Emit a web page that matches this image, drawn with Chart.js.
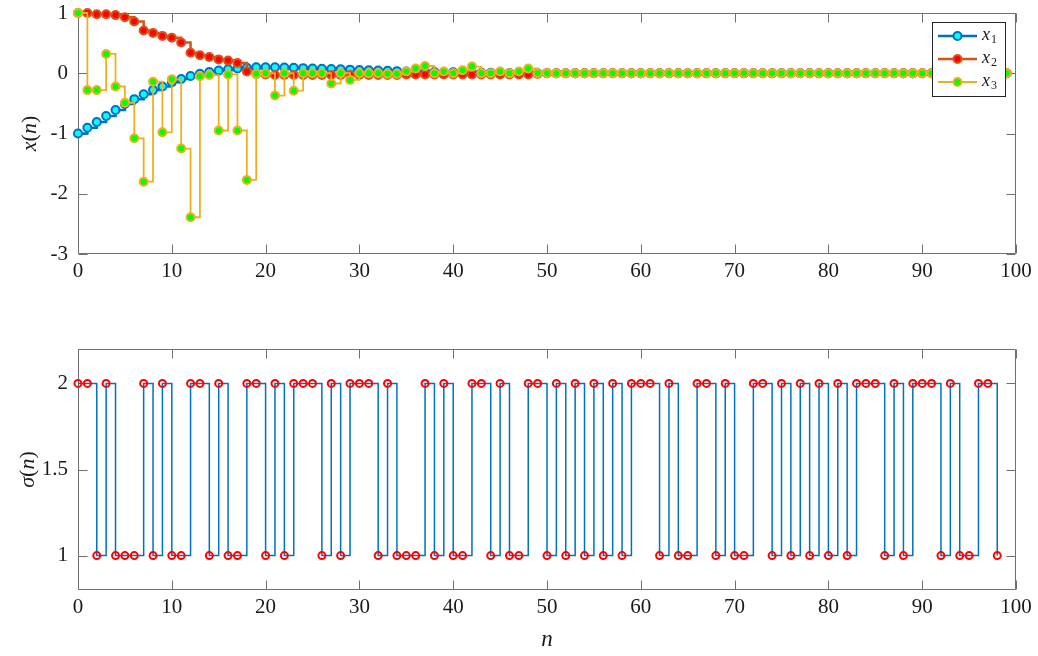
<!DOCTYPE html>
<html><head><meta charset="utf-8">
<script src="https://cdn.jsdelivr.net/npm/chart.js@4.4.0/dist/chart.umd.min.js"></script>
<style>
html,body{margin:0;padding:0;background:#fff;width:1038px;height:656px;overflow:hidden}
#c1{position:absolute;left:0;top:0}
#c2{position:absolute;left:0;top:300px}
</style></head><body>
<canvas id="c1" width="1038" height="300"></canvas>
<canvas id="c2" width="1038" height="356"></canvas>
<script>
// ---------- data ----------
const x1 = [-1.00,-0.906,-0.81,-0.71,-0.61,-0.51,-0.43,-0.35,-0.28,-0.22,
  -0.15,-0.095,-0.045,-0.01,0.02,0.044,0.065,0.078,0.09,0.10,
  0.10,0.10,0.095,0.09,0.085,0.08,0.075,0.07,0.065,0.06,
  0.055,0.05,0.045,0.04,0.035,0.03,0.027,0.024,0.02,0.018,
  0.015,0.013,0.011,0.009,0.007,0.006,0.005,0.004,0.003,0.002,
  0.002,0.001,0.001,0.001,0,0,0,0,0,0,
  0,0,0,0,0,0,0,0,0,0,
  0,0,0,0,0,0,0,0,0,0,
  0,0,0,0,0,0,0,0,0,0,
  0,0,0,0,0,0,0,0,0,0];
const x2 = [1.00,1.00,0.98,0.98,0.965,0.93,0.86,0.71,0.67,0.62,
  0.59,0.51,0.34,0.30,0.27,0.23,0.21,0.17,0.03,-0.01,
  -0.02,-0.03,-0.03,-0.03,-0.03,-0.03,-0.03,-0.03,-0.03,-0.03,
  -0.03,-0.03,-0.03,-0.03,-0.03,-0.02,-0.02,-0.02,-0.02,-0.02,
  -0.02,-0.02,-0.02,-0.02,-0.02,-0.02,-0.02,-0.02,-0.02,-0.01,
  0,0,0,0,0,0,0,0,0,0,
  0,0,0,0,0,0,0,0,0,0,
  0,0,0,0,0,0,0,0,0,0,
  0,0,0,0,0,0,0,0,0,0,
  0,0,0,0,0,0,0,0,0,0];
const x3 = [1.00,-0.28,-0.28,0.32,-0.22,-0.49,-1.08,-1.80,-0.14,-0.98,
  -0.10,-1.25,-2.39,-0.05,-0.03,-0.95,-0.02,-0.95,-1.77,-0.01,
  0.00,-0.37,0.00,-0.29,0.00,0.00,0.00,-0.17,0.00,-0.11,
  0.00,0.00,0.00,-0.01,-0.01,0.03,0.08,0.12,0.00,0.03,
  0.00,0.05,0.11,0.00,0.00,0.03,0.00,0.03,0.08,0.00,
  0,0,0,0,0,0,0,0,0,0,
  0,0,0,0,0,0,0,0,0,0,
  0,0,0,0,0,0,0,0,0,0,
  0,0,0,0,0,0,0,0,0,0,
  0,0,0,0,0,0,0,0,0,0];
const sigma = [2,2,1,2,1,1,1,2,1,2,
  1,1,2,2,1,2,1,1,2,2,
  1,2,1,2,2,2,1,2,1,2,
  2,2,1,2,1,1,1,2,1,2,
  1,1,2,2,1,2,1,1,2,2,
  1,2,1,2,1,2,1,2,1,2,
  2,2,1,2,1,1,2,2,1,2,
  1,1,2,2,1,2,1,2,1,2,
  1,2,1,2,2,2,1,2,1,2,
  2,2,1,2,1,1,2,2,1];
const xTicks = [0,10,20,30,40,50,60,70,80,90,100];
const yTicksTop = [-3,-2,-1,0,1];
const yTicksBottom = [1,1.5,2];
const seriesNames = ['1','2','3']; // subscripts of x
const seriesColors = ['#0072BD','#D95319','#EDB120'];
const seriesFaces = ['#00FFFF','#FF0000','#00FF00'];

const SERIF = '"Liberation Serif", "DejaVu Serif", serif';
const toPts = arr => arr.map((v,i)=>({x:i,y:v}));

function drawMath(ctx, parts, size){
  let w = 0;
  parts.forEach(p=>{ctx.font=(p[1]?'italic ':'')+size+'px '+SERIF; w+=ctx.measureText(p[0]).width;});
  let cx = -w/2;
  ctx.textBaseline='middle'; ctx.textAlign='left';
  parts.forEach(p=>{ctx.font=(p[1]?'italic ':'')+size+'px '+SERIF; ctx.fillText(p[0],cx,0); cx+=ctx.measureText(p[0]).width;});
}

function framePlugin(yTicks){
  return {
    id:'frame',
    beforeDatasetsDraw(chart){
      const {ctx, chartArea:a, scales:{x,y}} = chart;
      ctx.save();
      ctx.strokeStyle='#6f6f6f'; ctx.lineWidth=1;
      const L=Math.round(a.left)+0.5, R=Math.round(a.right)-0.5, T=Math.round(a.top)+0.5, B=Math.round(a.bottom)-0.5;
      ctx.beginPath(); ctx.rect(L,T,R-L,B-T); ctx.stroke();
      const tl=9;
      ctx.beginPath();
      xTicks.forEach(v=>{const px=Math.round(x.getPixelForValue(v))+0.5; ctx.moveTo(px,B); ctx.lineTo(px,B-tl); ctx.moveTo(px,T); ctx.lineTo(px,T+tl);});
      yTicks.forEach(v=>{const py=Math.round(y.getPixelForValue(v))+0.5; ctx.moveTo(L,py); ctx.lineTo(L+tl,py); ctx.moveTo(R,py); ctx.lineTo(R-tl,py);});
      ctx.stroke();
      ctx.restore();
    }
  };
}

const topTitles = {
  id:'topTitles',
  afterDraw(chart){
    const {ctx, chartArea:a} = chart;
    ctx.save();
    ctx.fillStyle='#1a1a1a';
    ctx.translate(30,(a.top+a.bottom)/2); ctx.rotate(-Math.PI/2);
    drawMath(ctx,[['x',true],['(',false],['n',true],[')',false]],22);
    ctx.restore();
    // legend
    ctx.save();
    const lx=932.5, ly=22.5, lw=73, lh=74;
    ctx.fillStyle='#fff'; ctx.fillRect(lx,ly,lw,lh);
    ctx.strokeStyle='#262626'; ctx.lineWidth=1; ctx.strokeRect(lx,ly,lw,lh);
    const rows=[36,59,82];
    const widths=[2.5,2.5,1.8];
    rows.forEach((ry,i)=>{
      ctx.strokeStyle=seriesColors[i]; ctx.lineWidth=widths[i];
      ctx.beginPath(); ctx.moveTo(938,ry); ctx.lineTo(977,ry); ctx.stroke();
      ctx.beginPath(); ctx.arc(957.5,ry,4,0,Math.PI*2);
      ctx.fillStyle=seriesFaces[i]; ctx.fill();
      ctx.lineWidth=2; ctx.strokeStyle=seriesColors[i]; ctx.stroke();
      ctx.fillStyle='#1a1a1a'; ctx.textBaseline='middle'; ctx.textAlign='left';
      ctx.font='italic 18px '+SERIF; ctx.fillText('x',982,ry-1);
      const w=ctx.measureText('x').width;
      ctx.font='12px '+SERIF; ctx.fillText(seriesNames[i],982+w+1,ry+4);
    });
    ctx.restore();
  }
};

const bottomTitles = {
  id:'bottomTitles',
  afterDraw(chart){
    const {ctx, chartArea:a} = chart;
    ctx.save();
    ctx.fillStyle='#1a1a1a';
    ctx.translate(28,(a.top+a.bottom)/2); ctx.rotate(-Math.PI/2);
    drawMath(ctx,[['σ',true],['(',false],['n',true],[')',false]],22);
    ctx.restore();
    ctx.save();
    ctx.fillStyle='#1a1a1a';
    ctx.translate((a.left+a.right)/2,340);
    drawMath(ctx,[['n',true]],23);
    ctx.restore();
  }
};

function options(yMin,yMax,yTicks,xAxisH,padTop){
  const tickFont={family:SERIF,size:21};
  return {
    responsive:false, animation:false, events:[],
    layout:{autoPadding:false, padding:{top:padTop,right:22,left:0,bottom:0}},
    plugins:{legend:{display:false},tooltip:{enabled:false}},
    scales:{
      x:{type:'linear',min:0,max:100,
        afterBuildTicks:s=>{s.ticks=xTicks.map(v=>({value:v}));},
        afterFit:s=>{s.height=xAxisH; s.paddingLeft=0; s.paddingRight=0; s.paddingTop=0; s.paddingBottom=0;},
        grid:{display:false,drawTicks:false}, border:{display:false},
        ticks:{padding:5,font:tickFont,color:'#1a1a1a',maxRotation:0,autoSkip:false,callback:v=>String(v)}},
      y:{type:'linear',min:yMin,max:yMax,
        afterBuildTicks:s=>{s.ticks=yTicks.map(v=>({value:v}));},
        afterFit:s=>{s.width=78; s.paddingLeft=0; s.paddingRight=0; s.paddingTop=0; s.paddingBottom=0;},
        grid:{display:false,drawTicks:false}, border:{display:false},
        ticks:{padding:10,font:tickFont,color:'#1a1a1a',autoSkip:false,callback:v=>String(v)}}
    }
  };
}

const lineWidths=[2.5,2.5,1.8];
const topSeries=[x1,x2,x3];
new Chart(document.getElementById('c1'),{
  type:'line',
  data:{datasets: topSeries.map((s,i)=>({
    label:'x'+seriesNames[i], data:toPts(s), stepped:'before',
    borderColor:seriesColors[i], borderWidth:lineWidths[i],
    pointRadius:4, pointBorderWidth:2,
    pointBackgroundColor:seriesFaces[i], pointBorderColor:seriesColors[i],
    order:2-i, clip:false, fill:false
  }))},
  options:options(-3,1,yTicksTop,46,13),
  plugins:[framePlugin(yTicksTop),topTitles]
});

new Chart(document.getElementById('c2'),{
  type:'line',
  data:{datasets:[{
    label:'sigma', data:toPts(sigma), stepped:'before',
    borderColor:'#0072BD', borderWidth:1.5,
    pointRadius:3.5, pointBorderWidth:2,
    pointBackgroundColor:'rgba(0,0,0,0)', pointBorderColor:'#FF0000',
    clip:false, fill:false
  }]},
  options:options(0.8,2.2,yTicksBottom,66,49),
  plugins:[framePlugin(yTicksBottom),bottomTitles]
});
</script>
</body></html>
